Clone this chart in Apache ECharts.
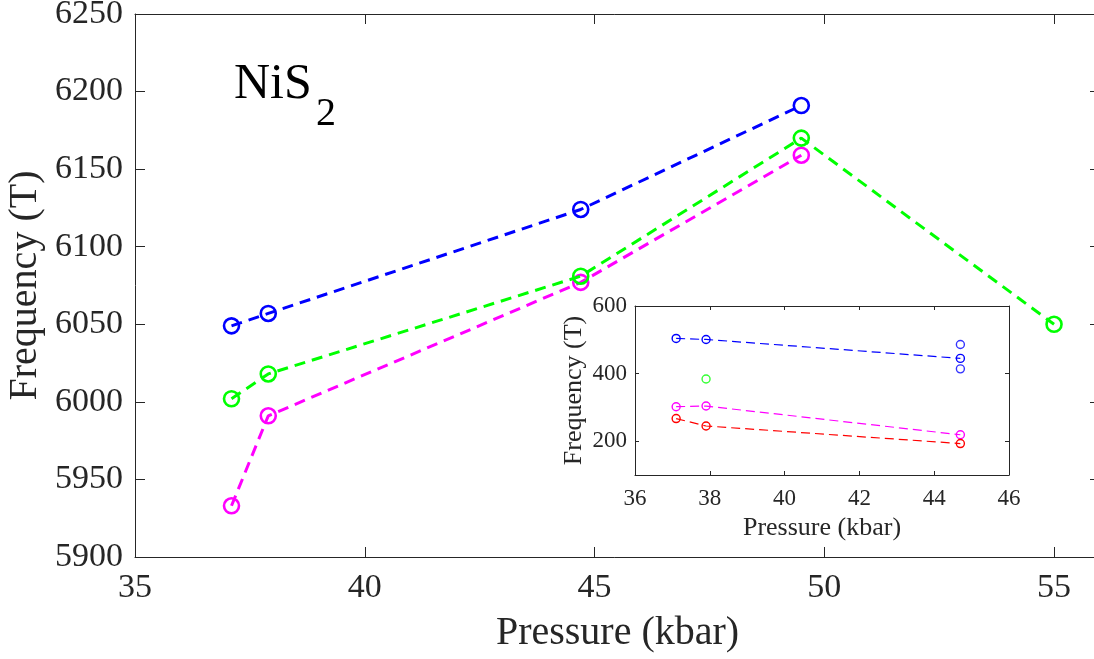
<!DOCTYPE html>
<html>
<head>
<meta charset="utf-8">
<script src="https://cdn.jsdelivr.net/npm/echarts@6/dist/echarts.min.js"></script>
<style>
html,body{margin:0;padding:0;background:#fff;}
#chart{width:1094px;height:659px;}
</style>
</head>
<body>
<div id="chart"></div>
<script>
// ---- Main plot data ----
const mainPressure = [37.1, 37.9, 44.7, 49.5];
const greenPressure = [37.1, 37.9, 44.7, 49.5, 55.0];
const blueMain = [6049, 6057, 6124, 6191];
const greenMain = [6002, 6018, 6081, 6170, 6050];
const magentaMain = [5933, 5991, 6077, 6159];

// ---- Inset data ----
const insetPressure = [37.1, 37.9, 44.7];
const blueInset = [504, 501, 445];
const blueExtraPressure = [44.7, 44.7];
const blueExtra = [486, 414];
const greenInsetPressure = [37.9];
const greenInset = [384];
const magentaInset = [302, 304, 219];
const redInset = [267, 245, 193];

// ---- Axis ticks ----
const mainXTicks = [35, 40, 45, 50, 55];
const mainYTicks = [5900, 5950, 6000, 6050, 6100, 6150, 6200, 6250];
const insetXTicks = [36, 38, 40, 42, 44, 46];
const insetYTicks = [200, 400, 600];

const pairs = (xs, ys) => ys.map((y, i) => [xs[i], y]);

const SERIF = '"Liberation Serif", "DejaVu Serif", "Times New Roman", serif';
const AX = '#262626';

function axisCommon(show, labelSize, tickLen, margin, ticks) {
  return {
    axisLine: { show: true, onZero: false, lineStyle: { color: AX, width: 1 } },
    axisTick: { show: true, inside: true, length: tickLen, customValues: ticks, lineStyle: { color: AX, width: 1 } },
    axisLabel: { show: show, color: AX, fontFamily: SERIF, fontSize: labelSize, margin: margin,
      customValues: ticks, formatter: (v) => String(v) },
    splitLine: { show: false }
  };
}

function mainSeries(name, xs, ys, color, z) {
  return {
    name: name, type: 'line', xAxisIndex: 0, yAxisIndex: 0,
    data: pairs(xs, ys), symbol: 'circle', symbolSize: 15, z: z,
    itemStyle: { color: 'rgba(0,0,0,0)', borderColor: color, borderWidth: 2.6 },
    lineStyle: { color: color, width: 3, type: [11, 7] },
    emphasis: { disabled: true }, animation: false
  };
}
function insetSeries(name, xs, ys, color, withLine) {
  return {
    name: name, type: withLine ? 'line' : 'scatter', xAxisIndex: 2, yAxisIndex: 2,
    data: pairs(xs, ys), symbol: 'circle', symbolSize: 8, z: 20,
    itemStyle: { color: 'rgba(0,0,0,0)', borderColor: color, borderWidth: 1.4 },
    lineStyle: { color: color, width: 1.2, type: [9, 5] },
    emphasis: { disabled: true }, animation: false
  };
}

const chart = echarts.init(document.getElementById('chart'), null, { renderer: 'canvas' });

const option = {
  backgroundColor: '#ffffff',
  animation: false,
  grid: [
    { left: 135, top: 14, width: 965, height: 543, show: false, containLabel: false, outerBoundsMode: 'none' },
    { left: 635, top: 306, width: 374, height: 169, show: true, backgroundColor: '#ffffff', borderWidth: 0, z: 10,
      containLabel: false, outerBoundsMode: 'none' }
  ],
  xAxis: [
    Object.assign({ type: 'value', gridIndex: 0, min: 35, max: 56, interval: 5, position: 'bottom',
      name: 'Pressure (kbar)', nameLocation: 'middle', nameGap: 56,
      nameTextStyle: { fontFamily: SERIF, fontSize: 40, color: AX } }, axisCommon(true, 34, 10, 14, mainXTicks)),
    Object.assign({ type: 'value', gridIndex: 0, min: 35, max: 56, interval: 5, position: 'top' }, axisCommon(false, 34, 10, 14, mainXTicks)),
    Object.assign({ type: 'value', gridIndex: 1, min: 36, max: 46, interval: 2, position: 'bottom', z: 15,
      name: 'Pressure (kbar)', nameLocation: 'middle', nameGap: 40,
      nameTextStyle: { fontFamily: SERIF, fontSize: 26, color: AX } }, axisCommon(true, 23, 4, 12, insetXTicks)),
    Object.assign({ type: 'value', gridIndex: 1, min: 36, max: 46, interval: 2, position: 'top', z: 15 }, axisCommon(false, 23, 4, 12, insetXTicks))
  ],
  yAxis: [
    Object.assign({ type: 'value', gridIndex: 0, min: 5900, max: 6250, interval: 50, position: 'left',
      name: 'Frequency (T)', nameLocation: 'middle', nameGap: 90, nameMoveOverlap: false,
      nameTextStyle: { fontFamily: SERIF, fontSize: 40, color: AX } }, axisCommon(true, 34, 10, 12, mainYTicks)),
    Object.assign({ type: 'value', gridIndex: 0, min: 5900, max: 6250, interval: 50, position: 'right' }, axisCommon(false, 34, 10, 12, mainYTicks)),
    Object.assign({ type: 'value', gridIndex: 1, min: 100, max: 600, interval: 100, position: 'left', z: 15,
      name: 'Frequency (T)', nameLocation: 'middle', nameGap: 48,
      nameTextStyle: { fontFamily: SERIF, fontSize: 26, color: AX } }, axisCommon(true, 23, 4, 8, insetYTicks)),
    Object.assign({ type: 'value', gridIndex: 1, min: 100, max: 600, interval: 100, position: 'right', z: 15 }, axisCommon(false, 23, 4, 8, insetYTicks))
  ],
  series: [
    mainSeries('blue', mainPressure, blueMain, '#0000ff', 3),
    mainSeries('magenta', mainPressure, magentaMain, '#ff00ff', 4),
    mainSeries('green', greenPressure, greenMain, '#00ff00', 5),
    insetSeries('blueI', insetPressure, blueInset, '#0000ff', true),
    insetSeries('blueX', blueExtraPressure, blueExtra, '#0000ff', false),
    insetSeries('greenI', greenInsetPressure, greenInset, '#00ff00', false),
    insetSeries('magentaI', insetPressure, magentaInset, '#ff00ff', true),
    insetSeries('redI', insetPressure, redInset, '#ff0000', true)
  ],
  graphic: [
    { type: 'text', left: 234, top: 60, z: 50,
      style: { text: 'NiS', font: '50px ' + SERIF, fill: '#000' } },
    { type: 'text', left: 316, top: 94, z: 50,
      style: { text: '2', font: '40px ' + SERIF, fill: '#000' } }
  ]
};
chart.setOption(option);
</script>
</body>
</html>
